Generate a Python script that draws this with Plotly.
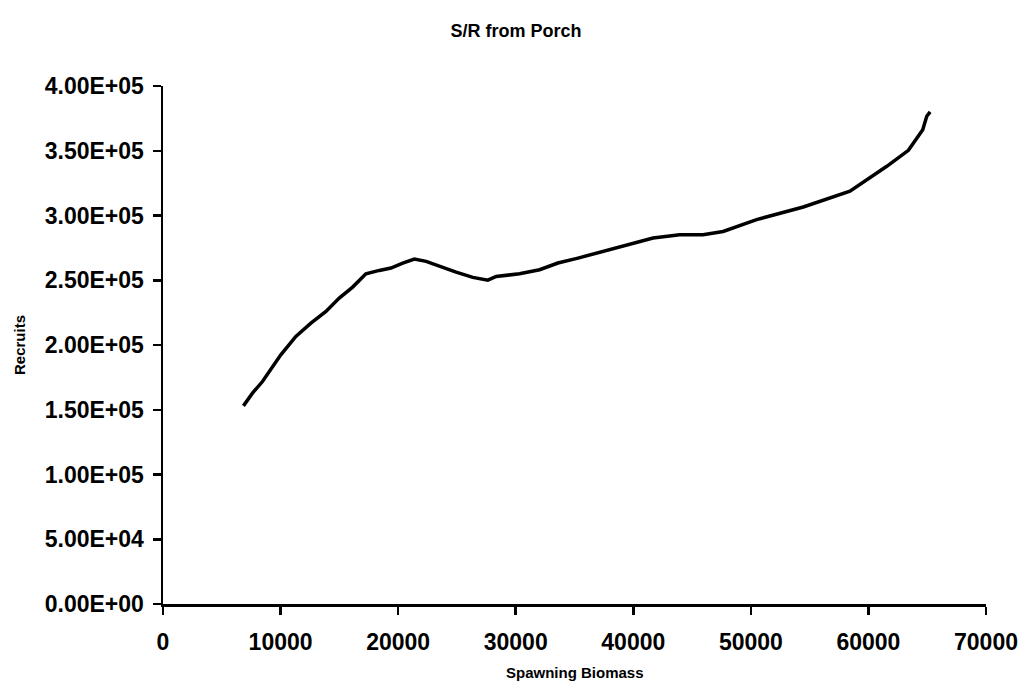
import plotly.graph_objects as go

spawning_biomass = [6840, 7610, 8460, 10020, 11300, 12580, 13860, 14990, 16130, 17260,
                    18400, 19390, 20390, 21380, 22380, 23510, 24930, 26350, 27630, 28340,
                    30320, 32030, 33590, 35300, 41680, 43950, 45940, 47640, 50490, 54460,
                    58430, 61560, 63400, 64620, 64960, 65250]
recruits = [153000, 162800, 171800, 192400, 206600, 216900, 225900, 236200, 244700, 255000,
            257600, 259400, 263300, 266400, 264600, 260700, 256300, 252200, 250100, 252900,
            255000, 258100, 263300, 267100, 282600, 285200, 285200, 287700, 296800, 306600,
            318700, 338000, 350300, 366300, 376600, 380000]

x_ticks = [0, 10000, 20000, 30000, 40000, 50000, 60000, 70000]
y_ticks = [0, 50000, 100000, 150000, 200000, 250000, 300000, 350000, 400000]
y_ticktext = [f"{v:.2E}" for v in y_ticks]

FONT = "Liberation Sans, Arial, sans-serif"
L, R, T, B = 163, 33, 86, 78
W, H = 1019, 682
PW, PH = W - L - R, H - T - B

fig = go.Figure()
fig.add_trace(go.Scatter(
    x=spawning_biomass, y=recruits, mode="lines",
    line=dict(color="black", width=3.5), showlegend=False, hoverinfo="skip",
))

fig.update_layout(
    width=W, height=H,
    margin=dict(l=L, r=R, t=T, b=B, autoexpand=False),
    paper_bgcolor="white", plot_bgcolor="white",
    title=dict(text="S/R from Porch", x=516 / W, xanchor="center", xref="container",
               y=1 - 31 / H, yanchor="middle", yref="container",
               font=dict(family=FONT, size=18, color="black", weight="bold")),
    xaxis=dict(
        range=[0, 70000], tickvals=x_ticks, ticktext=[str(v) for v in x_ticks],
        showgrid=False, zeroline=False, showline=True, linecolor="black", linewidth=3,
        ticks="outside", ticklen=8, tickwidth=2.5, tickcolor="black",
        tickfont=dict(family=FONT, size=23, color="black", weight="bold"),
        ticklabelstandoff=7, automargin=False,
    ),
    yaxis=dict(
        range=[0, 400000], tickvals=y_ticks, ticktext=y_ticktext,
        showgrid=False, zeroline=False, showline=True, linecolor="black", linewidth=2.5,
        ticks="outside", ticklen=8, tickwidth=2.5, tickcolor="black",
        tickfont=dict(family=FONT, size=23, color="black", weight="bold"),
        ticklabelstandoff=4, automargin=False,
    ),
    annotations=[
        dict(text="Spawning Biomass", xref="paper", yref="paper",
             x=0.5, y=(604 - 672) / PH, xanchor="center", yanchor="middle",
             showarrow=False,
             font=dict(family=FONT, size=15, color="black", weight="bold")),
        dict(text="Recruits", xref="paper", yref="paper",
             x=(19 - L) / PW, y=0.5, xanchor="center", yanchor="middle",
             textangle=-90, showarrow=False,
             font=dict(family=FONT, size=15, color="black", weight="bold")),
    ],
)

fig.write_html(
    "out.html",
    config={"displayModeBar": False, "staticPlot": True},
    post_script="document.documentElement.style.margin='0';"
                "document.body.style.margin='0';document.body.style.overflow='hidden';",
)
